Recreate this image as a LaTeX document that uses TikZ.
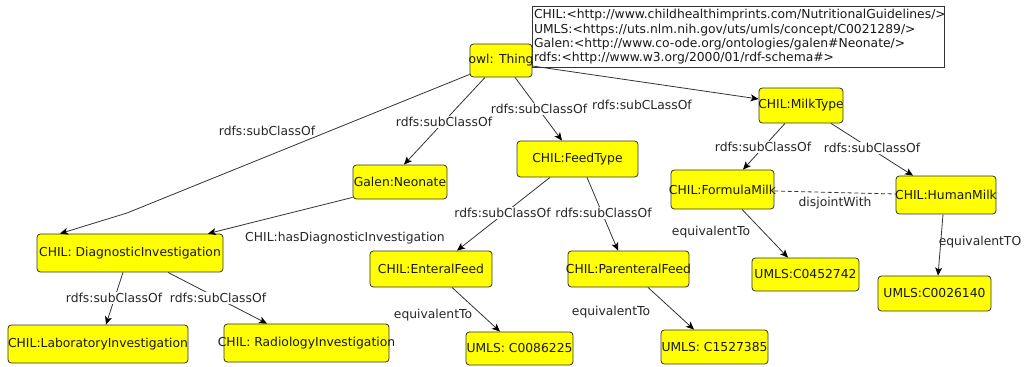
\documentclass[tikz,border=0pt]{standalone}
\usepackage{fontspec}
\setmainfont{DejaVu Sans}
\usetikzlibrary{arrows.meta,calc}
\definecolor{boxfill}{HTML}{FFFF00}
\definecolor{edgecol}{HTML}{333333}
\newcommand\klass[6]{\node[cls,minimum width={#4*0.75pt},minimum height={#5*0.75pt}] (#1) at (#2,#3) {\makebox[0pt]{#6}};}
\begin{document}
\begin{tikzpicture}[x=0.75pt,y=-0.75pt,font=\fontsize{9.25}{11}\selectfont,
  cls/.style={draw=edgecol,fill=boxfill,rounded corners=2.5pt,inner sep=0pt,line width=0.6pt,text=black!90},
  rel/.style={draw=edgecol,line width=0.6pt,-{Stealth[length=6pt,width=5.2pt,inset=1.5pt,color=black]}},
  lbl/.style={inner sep=1pt,text=black!85},
  onl/.style={lbl,fill=white,inner xsep=0.5pt}]
\useasboundingbox (0,0) rectangle (1025,367);

% prefix box
\node[draw=edgecol,fill=white,line width=0.6pt,anchor=north west,inner xsep=1.2pt,inner ysep=0pt,
  minimum height={61*0.75pt},text width={409*0.75pt},align=left,text=black!90,
  font=\fontsize{9.25}{10.7}\selectfont] (prefix) at (532,6)
  {CHIL:<http://www.childhealthimprints.com/NutritionalGuidelines/>\\
   UMLS:<https://uts.nlm.nih.gov/uts/umls/concept/C0021289/>\\
   Galen:<http://www.co-ode.org/ontologies/galen\#Neonate/>\\
   rdfs:<http://www.w3.org/2000/01/rdf-schema\#>};

% class nodes
\klass{thing}{501}{60.5}{62}{33}{owl: Thing}
\klass{milk}{801}{105.5}{84}{35}{CHIL:MilkType}
\klass{feed}{577.5}{159}{121}{36}{CHIL:FeedType}
\klass{neonate}{400}{182}{94}{34}{Galen:Neonate}
\klass{diag}{130}{253}{186}{38}{CHIL: DiagnosticInvestigation}
\klass{lab}{98}{344}{180}{38}{CHIL:LaboratoryInvestigation}
\klass{rad}{306.5}{343}{165}{38}{CHIL: RadiologyInvestigation}
\klass{enteral}{431}{269}{122}{36}{CHIL:EnteralFeed}
\klass{uent}{519.5}{348.5}{107}{33}{UMLS: C0086225}
\klass{parenteral}{628.5}{269}{121}{36}{CHIL:ParenteralFeed}
\klass{upar}{714.5}{347}{107}{34}{UMLS: C1527385}
\klass{formula}{722.5}{189.5}{103}{39}{CHIL:FormulaMilk}
\klass{human}{946}{195}{100}{38}{CHIL:HumanMilk}
\klass{uform}{805.5}{274.5}{107}{33}{UMLS:C0452742}
\klass{uhum}{934.5}{293.5}{113}{35}{UMLS:C0026140}

\coordinate (bend) at (127,213);

% connectors
\draw[rel] ($(thing.south west)+(0,-3)$) -- (bend) -- ($(diag.north)+(-70,0)$);
\draw[rel] ($(thing.south)+(-16,0)$) -- ($(neonate.north)+(4,0)$);
\draw[rel] ($(thing.south)+(14,0)$) -- ($(feed.north)+(-15.5,0)$);
\draw[rel] ($(thing.east)+(0,5.5)$) -- ($(milk.west)+(0,-6.5)$);
\draw[rel] ($(milk.south)+(-16,0)$) -- ($(formula.north)+(20.5,0)$);
\draw[rel] ($(milk.south)+(30,0)$) -- ($(human.north)+(-33,0)$);
\draw[rel] ($(feed.south)+(-27.5,0)$) -- ($(enteral.north)+(26,0)$);
\draw[rel] ($(feed.south)+(9.5,0)$) -- ($(parenteral.north)+(-10.5,0)$);
\draw[rel] ($(diag.south)+(-7,0)$) -- ($(lab.north)+(8,0)$);
\draw[rel] ($(diag.south)+(38,0)$) -- ($(rad.north)+(-39.5,0)$);
\draw[rel] ($(neonate.south west)+(0,-2)$) -- ($(diag.north)+(78,0)$);
\draw[rel] ($(enteral.south)+(21,0)$) -- ($(uent.north)+(-19.5,0)$);
\draw[rel] ($(parenteral.south)+(19.5,0)$) -- ($(upar.north)+(-20.5,0)$);
\draw[rel] ($(formula.south)+(19.5,0)$) -- ($(uform.north)+(-17.5,0)$);
\draw[rel] ($(human.south)+(-3,0)$) -- ($(uhum.north)+(3.5,0)$);
\draw[draw=edgecol,line width=0.6pt,dash pattern=on 3pt off 2pt] ($(formula.east)+(0,1.5)$) -- ($(human.west)+(0,-1)$);

% labels
\node[lbl] (l1) at (267,131) {rdfs:subClassOf};
\node[onl] (l2) at (444,122) {rdfs:subClassOf};
\node[onl] (l3) at (539,109) {rdfs:subClassOf};
\node[lbl] (l4) at (642,105) {rdfs:subCLassOf};
\node[onl] (l5) at (763,147) {rdfs:subClassOf};
\node[onl] (l6) at (872,148) {rdfs:subClassOf};
\node[onl] (l7) at (502.5,213) {rdfs:subClassOf};
\node[onl] (l8) at (603.5,213) {rdfs:subClassOf};
\node[onl] (l9) at (114,298) {rdfs:subClassOf};
\node[onl] (l10) at (218,298) {rdfs:subClassOf};
\node[lbl] (l11) at (345,238) {CHIL:hasDiagnosticInvestigation};
\node[lbl] (l12) at (433,315) {equivalentTo};
\node[lbl] (l13) at (611,312) {equivalentTo};
\node[lbl] (l14) at (711,232) {equivalentTo};
\node[lbl] (l15) at (980,242) {equivalentTO};
\node[lbl] (l16) at (835,203) {disjointWith};
\end{tikzpicture}
\end{document}
